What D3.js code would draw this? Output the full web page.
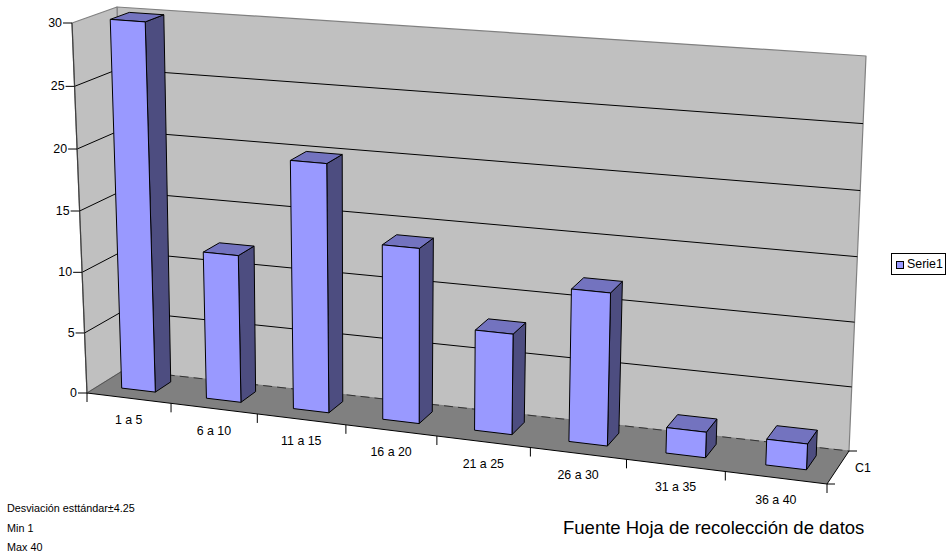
<!DOCTYPE html>
<html>
<head>
<meta charset="utf-8">
<script src="https://cdn.jsdelivr.net/npm/d3@7"></script>
<style>
  html, body { margin: 0; padding: 0; background: #fff; }
  svg { display: block; }
  text { font-family: "Liberation Sans", Arial, sans-serif; fill: #000; }
</style>
</head>
<body>
<svg id="chart" width="949" height="557"></svg>
<script>
//Chart data
const categories = ["1 a 5", "6 a 10", "11 a 15", "16 a 20", "21 a 25", "26 a 30", "31 a 35", "36 a 40"];
const values = [30, 12, 20, 14, 8, 12, 2, 2];
const yTicks = [0, 5, 10, 15, 20, 25, 30];
const notes = ["Desviación esttándar±4.25", "Min 1", "Max 40"];
const source = "Fuente Hoja de recolección de datos";
const seriesName = "Serie1";
const depthName = "C1";

//Box corners on screen: front left, front right, back right, back left
const floorCorners = [[87, 393], [827, 484], [849, 451], [124, 370]];
const topCorners = [[72, 23], [844, 81], [866, 56], [117, 7]];

//Perspective squeeze: slots widen to the right, heights widen to the top
const widthBend = 1.115;
const heightBend = 1.033;
const bend = (k, t) => t / (k - (k - 1) * t);

function quadAt(c, u, v) {
  const [p0, p1, p2, p3] = c;
  return [0, 1].map((i) =>
    (1 - v) * ((1 - u) * p0[i] + u * p1[i]) + v * ((1 - u) * p3[i] + u * p2[i])
  );
}

//u, v and z all 0-1 to screen
function project(u, v, z) {
  const t = bend(heightBend, z), s = bend(widthBend, u);
  const a = quadAt(floorCorners, s, v), b = quadAt(topCorners, s, v);
  return [a[0] + (b[0] - a[0]) * t, a[1] + (b[1] - a[1]) * t];
}

//Scales
const xScale = d3.scaleBand().domain(categories).range([0, 1]).paddingInner(0.6).paddingOuter(0.27);
const slotScale = d3.scaleBand().domain(categories).range([0, 1]);
const zScale = d3.scaleLinear().domain([0, 30]).range([0, 1]);
const depthScale = d3.scaleLinear().domain([0, 1]).range([0.33, 0.76]);

const svg = d3.select("#chart");
const poly = d3.line();

function face(points, fill, stroke, width) {
  return svg.append("path")
    .attr("d", poly(points) + "Z")
    .attr("fill", fill)
    .attr("stroke", stroke || "none")
    .attr("stroke-width", width || 1)
    .attr("stroke-linejoin", "round");
}

function seg(a, b, color, width, dash) {
  return svg.append("line")
    .attr("x1", a[0]).attr("y1", a[1])
    .attr("x2", b[0]).attr("y2", b[1])
    .attr("stroke", color)
    .attr("stroke-width", width || 1)
    .attr("stroke-dasharray", dash || null);
}

//Walls and floor
face([project(0, 1, 0), project(1, 1, 0), project(1, 1, 1), project(0, 1, 1)], "#c0c0c0", "#808080", 1.2);
face([project(0, 0, 0), project(0, 1, 0), project(0, 1, 1), project(0, 0, 1)], "#c0c0c0", "#808080", 1.2);
face([project(0, 0, 0), project(1, 0, 0), project(1, 1, 0), project(0, 1, 0)], "#808080");

//Gridlines
yTicks.filter((d) => d > 0 && d < 30).forEach((d) => {
  const z = zScale(d);
  seg(project(0, 0, z), project(0, 1, z), "#000", 1);
  seg(project(0, 1, z), project(1, 1, z), "#000", 1);
});

//Floor edges
seg(project(0, 1, 0), project(1, 1, 0), "#333", 1, "9 5");
seg(project(0, 0, 0), project(0, 1, 0), "#555", 1);
seg(project(0, 0, 0), project(1, 0, 0), "#000", 1);
seg(project(1, 0, 0), project(1, 1, 0), "#000", 1);
seg(project(0, 0, 0), project(0, 0, 1), "#404040", 1.2);

//Value axis
yTicks.forEach((d) => {
  const p = project(0, 0, zScale(d));
  seg([p[0] - 9, p[1]], p, "#000", 1);
  svg.append("text")
    .attr("x", p[0] - 10)
    .attr("y", p[1] + 4)
    .attr("text-anchor", "end")
    .attr("font-size", 12.4)
    .text(d);
});

//Category axis
d3.range(categories.length + 1).forEach((i) => {
  const p = project(i / categories.length, 0, 0);
  seg(p, [p[0], p[1] + 9], "#000", 1);
});
categories.forEach((c) => {
  const p = project(slotScale(c) + slotScale.bandwidth() / 2, 0, 0);
  svg.append("text")
    .attr("x", p[0])
    .attr("y", p[1] + 26)
    .attr("text-anchor", "middle")
    .attr("font-size", 12.4)
    .text(c);
});

//Depth axis
const d0 = project(1, 0, 0), d1 = project(1, 1, 0);
seg(d0, [d0[0] + 8, d0[1]], "#000", 1);
seg(d1, [d1[0] + 8, d1[1]], "#000", 1);
svg.append("text")
  .attr("x", (d0[0] + d1[0]) / 2 + 17)
  .attr("y", (d0[1] + d1[1]) / 2 + 4)
  .attr("font-size", 12.4)
  .text(depthName);

//Bars
categories.forEach((c, i) => {
  const u0 = xScale(c), u1 = u0 + xScale.bandwidth();
  const v0 = depthScale(0), v1 = depthScale(1);
  const z = zScale(values[i]);
  face([project(u1, v0, 0), project(u1, v1, 0), project(u1, v1, z), project(u1, v0, z)], "#4d4d80", "#000");
  face([project(u0, v0, z), project(u1, v0, z), project(u1, v1, z), project(u0, v1, z)], "#7373bf", "#000");
  face([project(u0, v0, 0), project(u1, v0, 0), project(u1, v0, z), project(u0, v0, z)], "#9999ff", "#000");
});

//Legend
svg.append("rect").attr("x", 891.5).attr("y", 253.5).attr("width", 54).attr("height", 21)
  .attr("fill", "#fff").attr("stroke", "#000");
svg.append("rect").attr("x", 896.5).attr("y", 261.5).attr("width", 7).attr("height", 7)
  .attr("fill", "#9999ff").attr("stroke", "#000");
svg.append("text").attr("x", 907).attr("y", 268).attr("font-size", 12.4).text(seriesName);

//Notes
const noteY = d3.scalePoint().domain(notes).range([512, 551]);
notes.forEach((n) => {
  svg.append("text").attr("x", 7).attr("y", noteY(n)).attr("font-size", 10.8).text(n);
});
svg.append("text").attr("x", 563).attr("y", 534).attr("font-size", 18.5).text(source);
</script>
</body>
</html>
